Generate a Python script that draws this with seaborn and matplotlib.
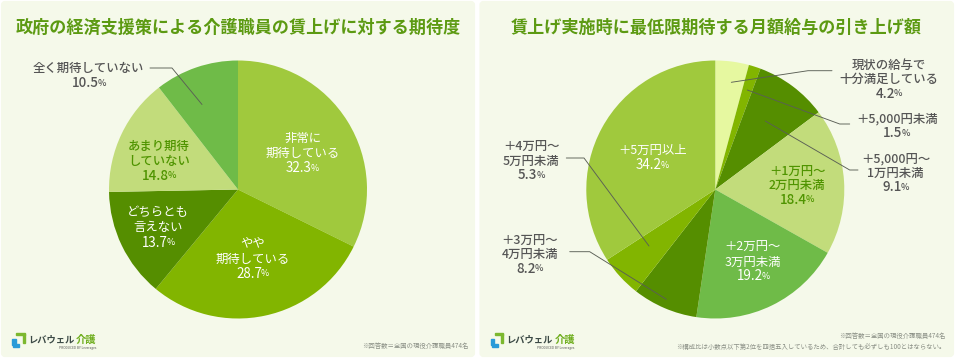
import matplotlib
matplotlib.use("Agg")
import matplotlib.pyplot as plt
from matplotlib.patches import FancyBboxPatch, Rectangle
import seaborn as sns

sns.set_theme(style="white")
plt.rcParams["font.family"] = ["Noto Sans CJK JP", "DejaVu Sans"]

# --- data ---
left_title = "政府の経済支援策による介護職員の賃上げに対する期待度"
left_labels = [["非常に", "期待している"], ["やや", "期待している"], ["どちらとも", "言えない"],
               ["あまり期待", "していない"], ["全く期待していない"]]
left_values = [32.3, 28.7, 13.7, 14.8, 10.5]

right_title = "賃上げ実施時に最低限期待する月額給与の引き上げ額"
right_labels = [["現状の給与で", "十分満足している"], ["＋5,000円未満"], ["＋5,000円～", "1万円未満"],
                ["＋1万円～", "2万円未満"], ["＋2万円～", "3万円未満"], ["＋3万円～", "4万円未満"],
                ["＋4万円～", "5万円未満"], ["＋5万円以上"]]
right_values = [4.2, 1.5, 9.1, 18.4, 19.2, 8.2, 5.3, 34.2]

note_count = "※回答数＝全国の現役介護職員474名"
note_round = "※構成比は小数点以下第2位を四捨五入しているため、合計しても必ずしも100とはならない。"

# --- colours ---
MID, STRONG, DARK, PALE, LEAF, LIME = "#A0C93D", "#82B500", "#558E00", "#C2DC7B", "#6FBB48", "#E6F8A0"
left_colors = sns.color_palette([MID, STRONG, DARK, PALE, LEAF])
right_colors = sns.color_palette([LIME, STRONG, DARK, PALE, LEAF, DARK, STRONG, MID])
GRAY = "#555555"
WHITE = "#FFFFFF"
GREEN = "#4F9400"
TITLE = "#5C9A12"
PANEL = "#F5F9EA"

H = 358

fig = plt.figure(figsize=(9.55, 3.58), dpi=100, facecolor="white")
ax = fig.add_axes([0, 0, 1, 1])


def draw_label(cx, y, lines, value, color, step, size=8.9):
    weight = "normal" if color == WHITE else "medium"
    for i, line in enumerate(lines):
        ax.text(cx, H - (y + i * step), line, color=color, fontsize=size, weight=weight,
                ha="center", va="center", zorder=5)
    # the percent sign is set smaller than the number
    y_pct = H - (y + len(lines) * step)
    num = ax.text(cx, y_pct, f"{value}", color=color, fontsize=size * 1.08, weight=weight,
                  ha="left", va="center", zorder=5)
    pct = ax.text(cx, y_pct, "%", color=color, fontsize=size * 0.72, weight=weight,
                  ha="left", va="center", zorder=5)
    r = fig.canvas.get_renderer()
    w1 = num.get_window_extent(r).width - 1
    w2 = pct.get_window_extent(r).width
    num.set_x(cx - (w1 + w2) / 2)
    pct.set_x(cx - (w1 + w2) / 2 + w1)


def leader(points):
    ax.plot([p[0] for p in points], [H - p[1] for p in points], color="#5A5F55", lw=0.65, zorder=4,
            solid_capstyle="round")


def logo(x0):
    # mark
    ax.add_patch(Rectangle((x0, H - 345), 3.5, 6.5, color="#2A9BD8", zorder=3))
    ax.add_patch(Rectangle((x0 + 1, H - 346.5), 6, 2.5, color="#2A9BD8", zorder=3))
    ax.add_patch(Rectangle((x0 + 4, H - 334.5), 8.5, 1.8, color="#7CB82F", zorder=3))
    ax.add_patch(Rectangle((x0 + 10.7, H - 342.5), 1.8, 9, color="#7CB82F", zorder=3))
    ax.text(x0 + 16, H - 340, "レバウェル", color="#3C4A46", fontsize=6.7, weight="bold", ha="left", va="center")
    ax.text(x0 + 64, H - 340, "介護", color="#6FAE1E", fontsize=7.4, weight="bold", ha="left", va="center")
    ax.text(x0 + 84, H - 347.7, "PRODUCED BY Leverages", color="#555555", fontsize=2.3, ha="right", va="center")


# --- panels ---
for x0, x1 in [(1, 475), (479.5, 954)]:
    ax.add_patch(FancyBboxPatch((x0 + 2, 3), x1 - x0 - 4, H - 6, boxstyle="round,pad=0,rounding_size=2",
                                facecolor=PANEL, edgecolor=PANEL, lw=3, zorder=0))

# --- left pie ---
ax.pie(left_values, colors=left_colors, center=(238, H - 189.5), radius=129, startangle=90, counterclock=False,
       wedgeprops={"linewidth": 0, "zorder": 2})
ax.text(238.5, H - 27.5, left_title, color=TITLE, fontsize=12.3, weight="bold", ha="center", va="center")

left_pos = [(302.7, 138.5, WHITE), (252.7, 244, WHITE), (158, 212.7, WHITE), (159, 146, GREEN), (88.7, 68.3, GRAY)]
for (cx, y, c), lines, v in zip(left_pos, left_labels, left_values):
    draw_label(cx, y, lines, v, c, 15)
leader([(150, 68), (172, 68), (202, 104.5)])

# --- right pie ---
ax.pie(right_values, colors=right_colors, center=(715.3, H - 189.5), radius=129, startangle=90, counterclock=False,
       wedgeprops={"linewidth": 0, "zorder": 2})
ax.text(716, H - 27.5, right_title, color=TITLE, fontsize=12.3, weight="bold", ha="center", va="center")

right_pos = [(888.7, 65, GRAY), (896.7, 119, GRAY), (895.5, 158.7, GRAY), (797.3, 171, GREEN),
             (753, 247.7, WHITE), (529.7, 240, GRAY), (531.3, 146.7, GRAY), (652.7, 150.7, WHITE)]
for (cx, y, c), lines, v in zip(right_pos, right_labels, right_values):
    draw_label(cx, y, lines, v, c, 14.3)

leader([(832, 70.7), (808, 70.7), (731.3, 82.3)])
leader([(849.7, 124), (839.7, 124), (747.3, 90)])
leader([(858, 170), (849.7, 170), (765.3, 121)])
leader([(566.3, 158), (584, 158), (649, 246)])
leader([(569.7, 251.7), (589.7, 251.7), (666.3, 299.3)])

# --- footer ---
logo(12)
logo(490.5)
ax.text(468, H - 346, note_count, color="#8A8F85", fontsize=4.6, ha="right", va="center")
ax.text(945.5, H - 336, note_count, color="#8A8F85", fontsize=4.6, ha="right", va="center")
ax.text(945.5, H - 346.7, note_round, color="#8A8F85", fontsize=4.6, ha="right", va="center")

ax.set_xlim(0, 955)
ax.set_ylim(0, H)
ax.set_aspect("equal")
ax.axis("off")
fig.savefig("out.png", dpi=100, facecolor="white")
